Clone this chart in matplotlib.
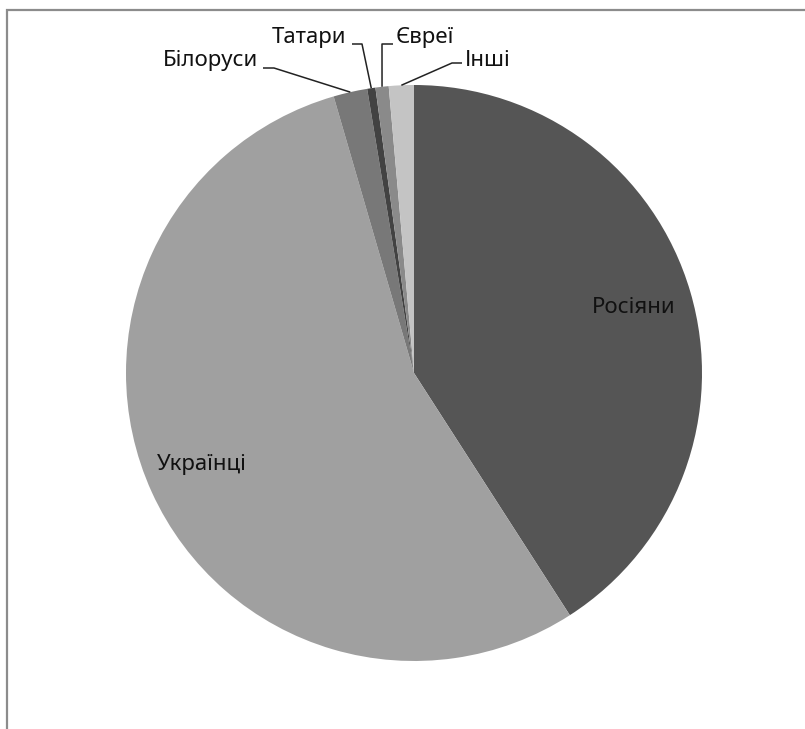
import matplotlib.pyplot as plt
from matplotlib.patches import Rectangle
import numpy as np

labels = ['Росіяни', 'Українці', 'Білоруси', 'Татари', 'Євреї', 'Інші']
values = [40.9, 54.6, 1.9, 0.46, 0.74, 1.4]
colors = ['#555555', '#a0a0a0', '#787878', '#424242', '#8a8a8a', '#c4c4c4']

plt.rcParams['font.family'] = ['Noto Sans', 'DejaVu Sans']

W, H = 805, 729
fig = plt.figure(figsize=(W / 100, H / 100), dpi=100)
ax = fig.add_axes([0, 0, 1, 1])

cx, cy, r = 414, H - 373, 288
wedges, _ = ax.pie(values, colors=colors, startangle=90, counterclock=False,
                   center=(cx, cy), radius=r, frame=True,
                   wedgeprops=dict(linewidth=0))
ax.set_xlim(0, W)
ax.set_ylim(0, H)
ax.set_aspect('equal')
ax.axis('off')

fs = 16

# inside labels
ax.text(634, H - 307, labels[0], ha='center', va='center', fontsize=fs, color='#111111')
ax.text(202, H - 464, labels[1], ha='center', va='center', fontsize=fs, color='#111111')


def anchor(w):
    th = np.deg2rad((w.theta1 + w.theta2) / 2)
    return cx + r * np.cos(th), cy + r * np.sin(th)


# outside labels with leader lines: (text x, text y, ha, elbow points)
outside = {
    2: (258, 60, 'right', [(263, 68), (274, 68)]),
    3: (346, 37, 'right', [(352, 44), (362, 44)]),
    4: (396, 37, 'left', [(393, 44), (382, 44)]),
    5: (465, 60, 'left', [(462, 63), (452, 63)]),
}
for i, (tx, ty, ha, pts) in outside.items():
    ax_, ay_ = anchor(wedges[i])
    xs = [p[0] for p in pts] + [ax_]
    ys = [H - p[1] for p in pts] + [ay_]
    ax.plot(xs, ys, color='#222222', lw=1.1, solid_capstyle='butt')
    ax.text(tx, H - ty, labels[i], ha=ha, va='center', fontsize=fs, color='#111111')

# chart frame, cut off at the right and bottom edges
fig.patches.append(Rectangle((6.5 / W, -0.2), 1.2, 1.2 - 10 / H, transform=fig.transFigure,
                             fill=False, edgecolor='#8c8c8c', lw=1.6))

fig.savefig('out.png', dpi=100)
